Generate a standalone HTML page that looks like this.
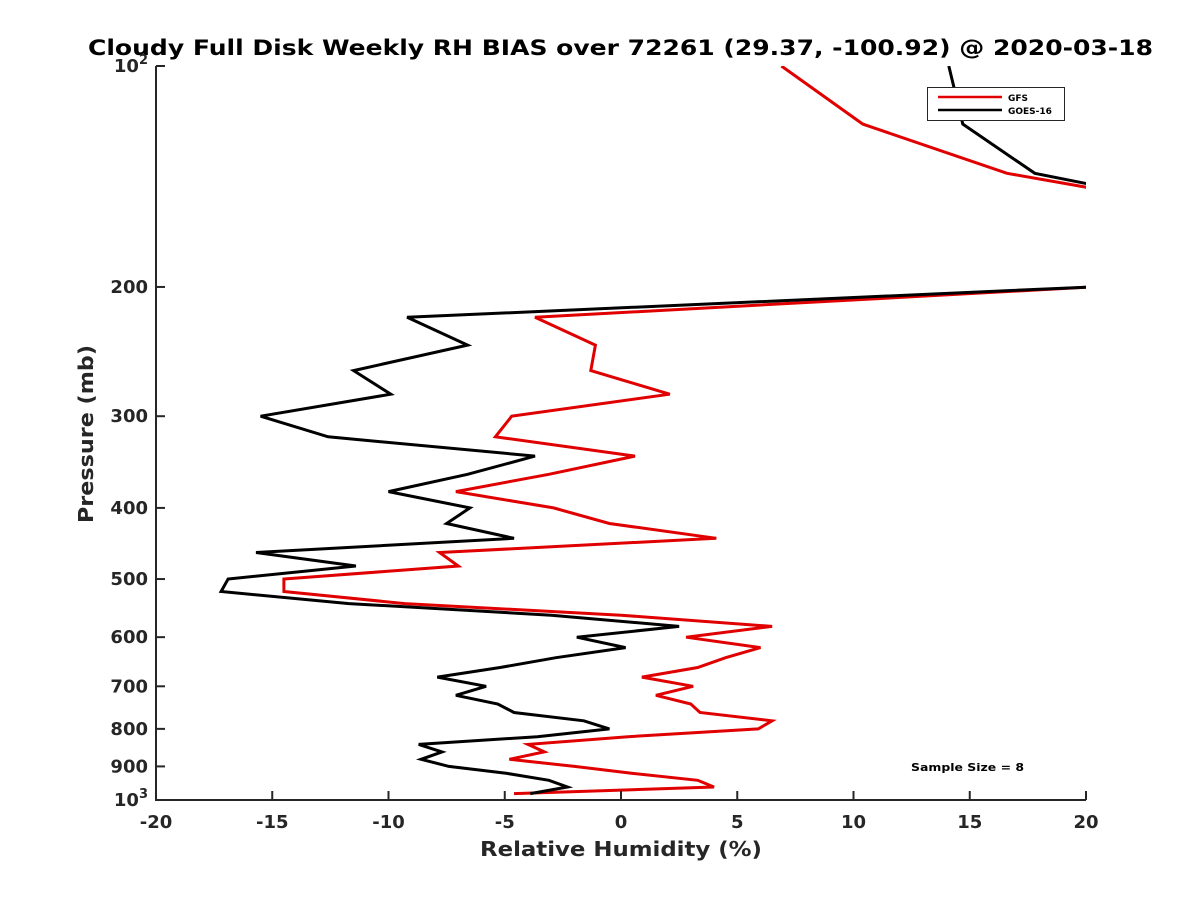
<!DOCTYPE html>
<html><head><meta charset="utf-8"><style>
body{margin:0;background:#fff;}
svg{display:block;font-family:"DejaVu Sans","Liberation Sans",sans-serif;font-weight:bold;}
</style></head><body>
<svg id="chart" width="1200" height="900" viewBox="0 0 1200 900">
<rect width="1200" height="900" fill="#fff"/>
<text x="88" y="55" textLength="1065" lengthAdjust="spacingAndGlyphs" font-size="21" fill="#000">Cloudy Full Disk Weekly RH BIAS over 72261 (29.37, -100.92) @ 2020-03-18</text>
<defs><clipPath id="plotclip"><rect x="156" y="66" width="930" height="734"/></clipPath></defs>
<g id="series" clip-path="url(#plotclip)"></g>
<g id="axes"></g>
<text x="480" y="856" textLength="282" lengthAdjust="spacingAndGlyphs" font-size="20" fill="#262626">Relative Humidity (%)</text>
<text transform="translate(93,523) rotate(-90)" textLength="178" lengthAdjust="spacingAndGlyphs" font-size="20" fill="#262626">Pressure (mb)</text>
<text x="911" y="771" textLength="113" lengthAdjust="spacingAndGlyphs" font-size="11" fill="#000">Sample Size = 8</text>
<g>
<rect x="927.5" y="87.5" width="137" height="33" fill="#fff" stroke="#262626" stroke-width="1"/>
<line x1="938" y1="97" x2="1002" y2="97" stroke="#e00000" stroke-width="2.5"/>
<text x="1008" y="101" font-size="9" fill="#000">GFS</text>
<line x1="938" y1="110" x2="1002" y2="110" stroke="#000" stroke-width="2.5"/>
<text x="1008" y="114" font-size="9" fill="#000">GOES-16</text>
</g>
</svg>
<script>
const pressureLevels=[100,120,140,160,180,200,220,240,260,280,300,320,340,360,380,400,420,440,460,480,500,520,540,560,580,600,620,640,660,680,700,720,740,760,780,800,820,840,860,880,900,920,940,960,980];
const gfsBias=[6.9,10.4,16.6,27,27,20.2,-3.7,-1.1,-1.3,2.1,-4.7,-5.4,0.6,-3.1,-7.1,-2.9,-0.5,4.1,-7.8,-7.0,-14.5,-14.5,-9.3,0.0,6.5,2.8,6.0,4.5,3.3,0.9,3.1,1.5,3.0,3.4,6.5,5.9,0.3,-4.0,-3.3,-4.8,-2.0,0.5,3.3,4.0,-4.6];
const goesBias=[14.1,14.7,17.8,27,27,20.2,-9.2,-6.6,-11.5,-9.9,-15.5,-12.6,-3.7,-6.6,-10.0,-6.5,-7.5,-4.6,-15.7,-11.4,-16.9,-17.2,-11.7,-3.0,2.5,-1.9,0.2,-2.8,-5.2,-7.9,-5.8,-7.1,-5.3,-4.6,-1.6,-0.5,-3.6,-8.7,-7.7,-8.6,-7.4,-4.9,-3.1,-2.3,-3.9];
const xTicks=[-20,-15,-10,-5,0,5,10,15,20];
const yTicks=[100,200,300,400,500,600,700,800,900,1000];
const yTickLabels=["10^2","200","300","400","500","600","700","800","900","10^3"];
const NS="http://www.w3.org/2000/svg";
const X0=156,X1=1086,Y0=66,Y1=800;
function xs(v){return X0+(v+20)/40*(X1-X0);}
function ys(p){return Y0+(Math.log10(p)-2)*(Y1-Y0);}
function mk(t,a,parent){const e=document.createElementNS(NS,t);for(const k in a)e.setAttribute(k,a[k]);parent.appendChild(e);return e;}
const series=document.getElementById('series');
const axes=document.getElementById('axes');
function drawLine(vals,color,name){
  const pts=vals.map((v,i)=>xs(v).toFixed(1)+','+ys(pressureLevels[i]).toFixed(1)).join(' ');
  const pl=mk('polyline',{points:pts,fill:'none',stroke:color,'stroke-width':3,'stroke-linejoin':'miter'},series);
  
  
}
drawLine(gfsBias,'#e00000','gfs-line');
drawLine(goesBias,'#000000','goes16-line');
const ax=mk('path',{d:`M${X0},${Y0}V${Y1}H${X1}`,fill:'none',stroke:'#262626','stroke-width':2},axes);


xTicks.forEach(v=>{
  const x=xs(v);
  mk('line',{x1:x,y1:Y1,x2:x,y2:Y1-9,stroke:'#262626','stroke-width':2},axes);
  const t=mk('text',{x:x,y:Y1+28,'text-anchor':'middle','font-size':18,fill:'#262626'},axes);
  t.textContent=String(v);
  
  
});
yTicks.forEach((p,i)=>{
  const y=ys(p);
  mk('line',{x1:X0,y1:y,x2:X0+9,y2:y,stroke:'#262626','stroke-width':2},axes);
  const lab=yTickLabels[i];
  const t=mk('text',{x:X0-8,y:y+6,'text-anchor':'end','font-size':18,fill:'#262626'},axes);
  
  
  if(lab.indexOf('^')>=0){
    const parts=lab.split('^');
    const a=document.createElementNS(NS,'tspan');a.textContent=parts[0];t.appendChild(a);
    const b=document.createElementNS(NS,'tspan');b.setAttribute('dy','-8');b.setAttribute('font-size','13');b.textContent=parts[1];t.appendChild(b);
  } else t.textContent=lab;
});
</script>
</body></html>
